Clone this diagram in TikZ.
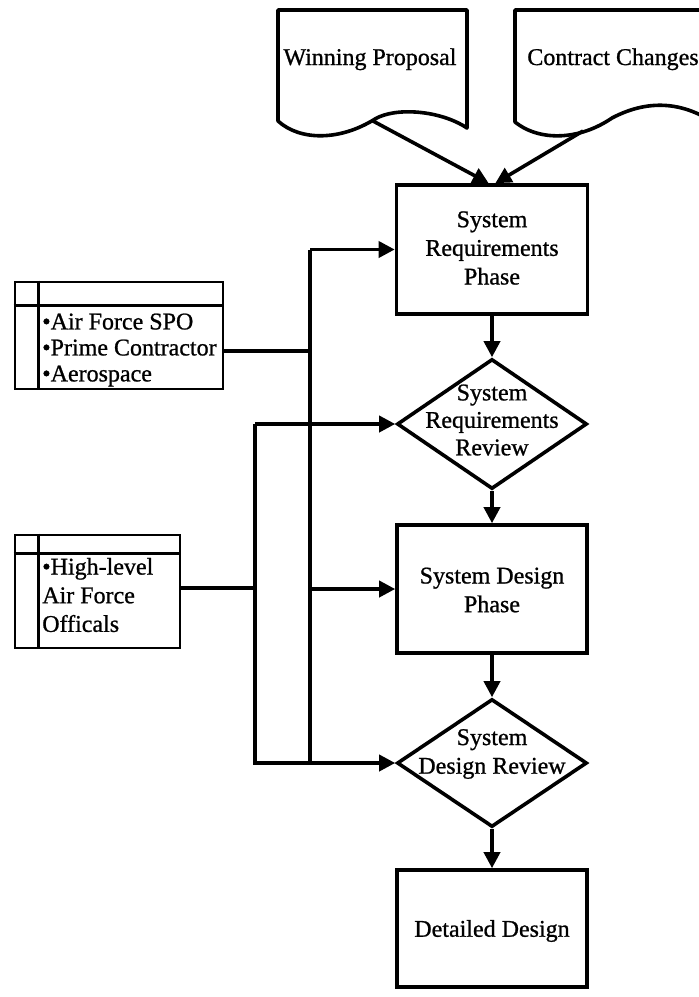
\documentclass[tikz,border=0pt]{standalone}
\usepackage{fontspec}
\setmainfont[FakeBold=0.9]{Liberation Serif}
\usetikzlibrary{arrows.meta,shapes.geometric}

\begin{document}
\begin{tikzpicture}[x=0.75pt,y=-0.75pt,
  every node/.style={font=\fontsize{18}{21.5}\selectfont},
  heavy/.style={line width=2.7pt},
  light/.style={line width=1.9pt},
  flow/.style={heavy,-{Triangle[length=12pt,width=12pt]}},
  phasebox/.style={heavy,draw,rectangle,inner sep=0pt},
  reviewbox/.style={heavy,draw,diamond,inner sep=0pt},
  orgbox/.style={light,draw,rectangle,inner sep=0pt},
  caption/.style={align=center,inner sep=0pt},
  roster/.style={align=left,anchor=west,inner sep=0pt}
]
\useasboundingbox (0,0) rectangle (699,997);
\clip (0,0) rectangle (699,997);

% input documents with wavy bottoms
\draw[heavy,line join=round] (278,121) -- (278,10) -- (467,10) -- (467,128)
  .. controls (440,110) and (395,107) .. (375,119)
  .. controls (340,141) and (300,141) .. (278,121) -- cycle;
\draw[heavy,line join=round] (515,122) -- (515,10) -- (730,10) -- (730,135)
  .. controls (690,100) and (650,98) .. (612,118)
  .. controls (580,140) and (540,142) .. (515,122) -- cycle;
\node[anchor=base,inner sep=0pt] (wp) at (370,65) {Winning Proposal};
\node[anchor=base,inner sep=0pt] (cc) at (613,65) {Contract Changes};
\coordinate (wpout) at (373,121);
\coordinate (ccout) at (583,131);

% main phase chain
\node[phasebox,minimum width=143.25pt,minimum height=96.75pt] (srp) at (492,249.5) {};
\node[reviewbox,minimum width=142.5pt,minimum height=97.5pt] (srr) at (492,424) {};
\node[phasebox,minimum width=142.5pt,minimum height=96pt] (sdp) at (492,589) {};
\node[reviewbox,minimum width=142.5pt,minimum height=96pt] (sdr) at (492,763) {};
\node[phasebox,minimum width=142.5pt,minimum height=87.75pt] (dd) at (492,928.5) {};

\node[caption] (srpt) at (492,248) {System\\Requirements\\Phase};
\node[caption,font=\fontsize{18}{20.6}\selectfont] (srrt) at (492,420) {System\\Requirements\\Review};
\node[caption] (sdpt) at (492,590) {System Design\\Phase};
\node[caption] (sdrt) at (492,754) {System\\Design Review};
\node[caption] (ddt) at (492,931) {Detailed Design};

\draw[flow] (wpout) -- ([xshift=-2.5pt]srp.north);
\draw[flow] (ccout) -- ([xshift=2.5pt]srp.north);
\draw[flow] (srp) -- (srr);
\draw[flow] (srr) -- (sdp);
\draw[flow] (sdp) -- (sdr);
\draw[flow] (sdr) -- (dd);

% participant boxes
\node[orgbox,minimum width=156pt,minimum height=80.25pt] (b1) at (119,335.5) {};
\draw[light] ([yshift=-18.75pt]b1.north west) -- ([yshift=-18.75pt]b1.north east);
\draw[light] ([xshift=18.75pt]b1.north west) -- ([xshift=18.75pt]b1.south west);
\node[roster,font=\fontsize{18}{19.5}\selectfont] (b1t) at (42,350)
  {•Air Force SPO\\•Prime Contractor\\•Aerospace};

\node[orgbox,minimum width=123.75pt,minimum height=84.75pt] (b2) at (97.5,591.5) {};
\draw[light] ([yshift=-15pt]b2.north west) -- ([yshift=-15pt]b2.north east);
\draw[light] ([xshift=18.75pt]b2.north west) -- ([xshift=18.75pt]b2.south west);
\node[roster] (b2t) at (42,595) {•High-level\\Air Force\\Officals};

% review bus lines
\coordinate (ja) at (310,351);
\coordinate (ta) at (310,249.5);
\coordinate (ba) at (310,763);
\coordinate (jb) at (255,588);
\coordinate (tb) at (255,424);
\coordinate (bb) at (255,763);

\draw[heavy] (b1.east |- ja) -- (ja);
\draw[heavy] (b2.east |- jb) -- (jb);
\draw[heavy] (ta) -- (ba);
\draw[flow] (ta) -- (srp.west);
\draw[flow] (ta |- sdp.west) -- (sdp.west);
\draw[flow] (tb) -- (srr.west);
\draw[flow] (tb) -- (bb) -- (sdr.west);
\end{tikzpicture}
\end{document}
